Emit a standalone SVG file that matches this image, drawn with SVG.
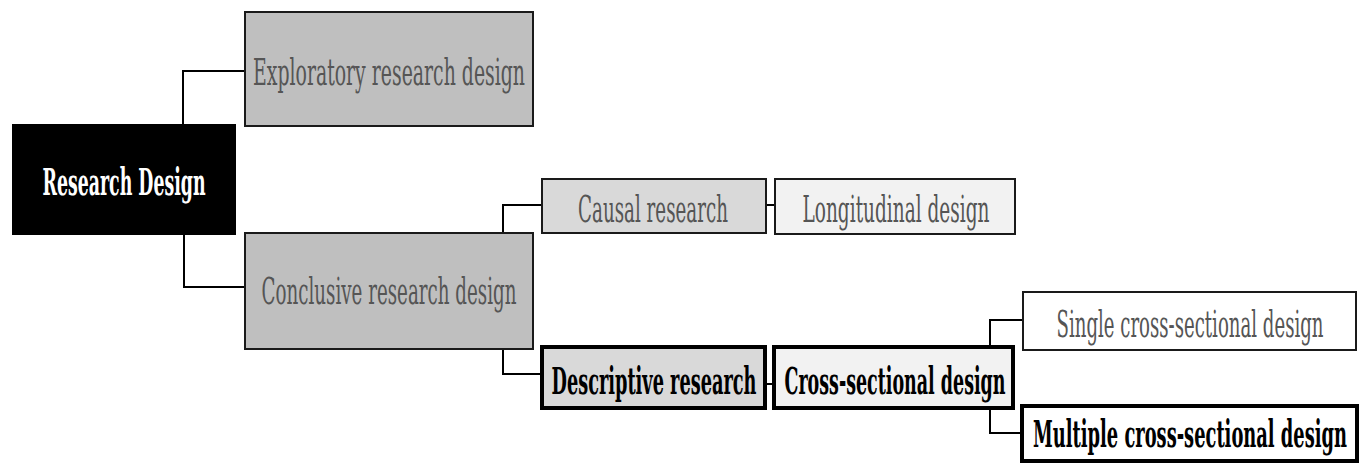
<svg xmlns="http://www.w3.org/2000/svg" width="1362" height="466" viewBox="0 0 1362 466">
<style>
.box{stroke:#1a1a1a;stroke-width:2}
.thick{stroke:#000;stroke-width:4}
.t{font-family:"DejaVu Serif","Liberation Serif",serif;font-stretch:condensed;font-size:37px;fill:#555;text-anchor:middle}
.b{font-family:"DejaVu Serif","Liberation Serif",serif;font-stretch:condensed;font-size:37px;font-weight:bold;fill:#000;text-anchor:middle}
.c{fill:none;stroke:#000;stroke-width:2}
</style>
<rect width="1362" height="466" fill="#fff"/>
<g id="connectors">
<path class="c" d="M183 124 V71 H245"/>
<path class="c" d="M184 235 V287 H245"/>
<path class="c" d="M503 233 V205 H542"/>
<path class="c" d="M766 205 H775"/>
<path class="c" d="M503 349 V374 H542"/>
<path class="c" d="M765 384 H774"/>
<path class="c" d="M990 347 V320 H1023"/>
<path class="c" d="M990 408 V433 H1022"/>
</g>
<g id="research-design">
<rect x="12" y="124" width="224" height="111" fill="#000"/>
<text class="b" transform="translate(124 195) scale(0.5 1)" style="fill:#fff" textLength="326" lengthAdjust="spacingAndGlyphs">Research Design</text>
</g>
<g id="exploratory">
<rect class="box" x="245" y="12" width="288" height="114" fill="#bfbfbf"/>
<text class="t" transform="translate(389 85) scale(0.5 1)" textLength="544" lengthAdjust="spacingAndGlyphs">Exploratory research design</text>
</g>
<g id="conclusive">
<rect class="box" x="245" y="233" width="288" height="116" fill="#bfbfbf"/>
<text class="t" transform="translate(389 304) scale(0.5 1)" textLength="510" lengthAdjust="spacingAndGlyphs">Conclusive research design</text>
</g>
<g id="causal">
<rect class="box" x="542" y="179" width="224" height="54" fill="#d9d9d9"/>
<text class="t" transform="translate(653 222) scale(0.5 1)" textLength="300" lengthAdjust="spacingAndGlyphs">Causal research</text>
</g>
<g id="longitudinal">
<rect class="box" x="775" y="179" width="240" height="55" fill="#f2f2f2"/>
<text class="t" transform="translate(896 222) scale(0.5 1)" textLength="374" lengthAdjust="spacingAndGlyphs">Longitudinal design</text>
</g>
<g id="descriptive">
<rect class="thick" x="542" y="347" width="223" height="61" fill="#d9d9d9"/>
<text class="b" transform="translate(654 394) scale(0.5 1)" textLength="410" lengthAdjust="spacingAndGlyphs">Descriptive research</text>
</g>
<g id="cross-sectional">
<rect class="thick" x="774" y="347" width="239" height="61" fill="#f2f2f2"/>
<text class="b" transform="translate(895 394) scale(0.5 1)" textLength="442" lengthAdjust="spacingAndGlyphs">Cross-sectional design</text>
</g>
<g id="single">
<rect class="box" x="1023" y="292" width="333" height="58" fill="#fff"/>
<text class="t" transform="translate(1190 337) scale(0.5 1)" textLength="534" lengthAdjust="spacingAndGlyphs">Single cross-sectional design</text>
</g>
<g id="multiple">
<rect class="thick" x="1022" y="406" width="335" height="55" fill="#fff"/>
<text class="b" transform="translate(1190 447) scale(0.5 1)" textLength="628" lengthAdjust="spacingAndGlyphs">Multiple cross-sectional design</text>
</g>
</svg>
